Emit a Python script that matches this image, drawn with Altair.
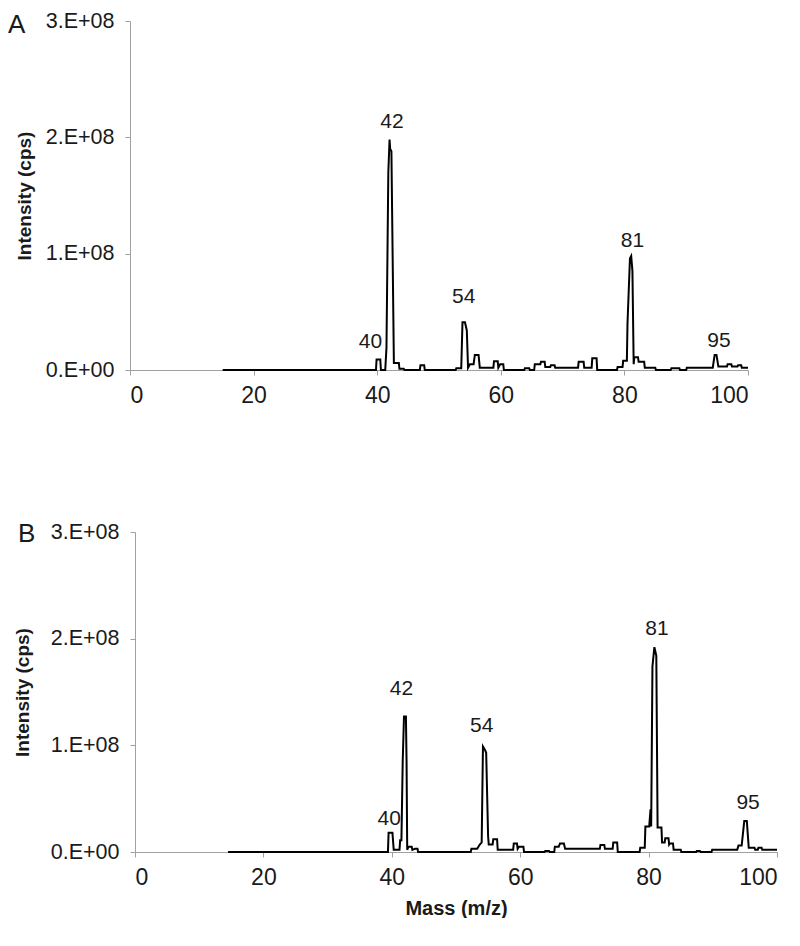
import altair as alt
import pandas as pd

# ---------------- Panel A spectrum ----------------
mass_a = [15, 39.8, 39.9, 40.5, 40.6, 41.3, 41.5, 41.8, 42.0, 42.1, 42.3, 42.7, 43.5, 43.6, 44.3, 44.4,
          46.9, 47.0, 47.6, 47.7,
          52.7, 52.8, 53.6, 53.8, 54.2, 54.5, 54.7, 55.0, 55.6, 55.8, 56.4, 56.6, 58.8, 58.9, 59.5, 59.6,
          59.9, 60.4, 60.5,
          63.8, 63.9, 64.6, 64.7, 65.4, 65.5, 66.4, 66.5, 67.1, 67.2, 68.0, 68.1, 68.7, 68.8, 72.5, 72.6,
          73.4, 73.5, 74.7, 74.8, 75.5, 75.6,
          78.8, 78.9, 79.7, 79.8, 80.4, 80.5, 80.9, 81.1, 81.3, 81.5, 81.6, 82.2, 82.3, 83.2, 83.3, 85.0, 85.1,
          87.5, 87.6, 88.9, 89.0, 90.0, 90.1, 94.3, 94.6, 94.9, 95.2, 96.6, 96.7, 97.3, 97.4, 98.3, 98.4,
          98.9, 99.0, 100]
int_a = [0, 0, 9e6, 9e6, 0, 0, 1.9e7, 1.7e8, 1.98e8, 1.9e8, 1.88e8, 6e6, 6e6, 1e6, 1e6, 0,
         0, 4e6, 4e6, 0,
         0, 1.5e6, 1.5e6, 4.1e7, 4.1e7, 3.4e7, 2e6, 5e6, 5e6, 1.3e7, 1.3e7, 2e6, 2e6, 7.5e6, 7.5e6, 2e6,
         5e6, 5e6, 0,
         0, 1.5e6, 1.5e6, 0, 0, 5e6, 5e6, 7e6, 7e6, 2.5e6, 2.5e6, 4e6, 4e6, 2e6, 2e6, 7e6,
         7e6, 2e6, 2e6, 1e7, 1e7, 0,
         0, 2.5e6, 2.5e6, 8e6, 8e6, 4e7, 9.6e7, 9.8e7, 8.5e7, 5e6, 1.1e7, 1.1e7, 7e6, 7e6, 2e6, 2e6, 0,
         0, 1.5e6, 1.5e6, 0, 0, 2e6, 2e6, 1.3e7, 1.3e7, 3e6, 3e6, 5e6, 5e6, 3e6, 3e6, 4e6,
         4e6, 2e6, 2e6]

# ---------------- Panel B spectrum ----------------
mass_b = [14.5, 39.4, 39.5, 40.1, 40.3, 41.2, 41.3, 41.5, 41.7, 41.9, 42.2, 42.3, 42.4, 42.6, 43.1, 43.2,
          43.6, 44.0, 44.1,
          52.3, 52.4, 53.3, 53.7, 54.0, 54.2, 54.5, 54.7, 55.0, 55.1, 55.7, 55.8, 56.4, 56.5, 58.9, 59.0,
          59.5, 59.6, 59.8, 60.5, 60.6,
          63.8, 63.9, 64.5, 64.6, 65.3, 65.4, 66.0, 66.2, 66.8, 67.0, 72.4, 72.5, 73.1, 73.2, 74.4, 74.5,
          75.1, 75.2,
          78.6, 78.7, 79.4, 79.5, 80.1, 80.3, 80.4, 80.6, 80.9, 81.2, 81.4, 82.0, 82.1, 82.5, 82.6, 83.1,
          83.2, 83.3, 83.8, 83.9, 85.0, 85.1,
          87.4, 87.5, 88.0, 88.1, 89.8, 89.9, 93.8, 94.0, 94.5, 94.9, 95.3, 95.6, 96.5, 96.6, 97.0, 97.1,
          97.6, 97.7, 100]
int_b = [0, 0, 1.8e7, 1.8e7, 2e6, 2e6, 1.1e7, 1.1e7, 8.5e7, 1.27e8, 1.27e8, 8.4e7, 2e6, 5e6, 5e6, 2e6,
         3e6, 3e6, 0,
         0, 3e6, 3e6, 7e6, 9e6, 9.9e7, 9.6e7, 9.3e7, 1.5e7, 7e6, 7e6, 1.2e7, 1.2e7, 2e6, 2e6, 8e6,
         8e6, 3e6, 5e6, 5e6, 0,
         0, 1e6, 1e6, 0, 0, 5e6, 5e6, 8e6, 8e6, 3e6, 3e6, 6.5e6, 6.5e6, 3e6, 3e6, 9e6,
         9e6, 0,
         0, 4e6, 4e6, 2.4e7, 2.4e7, 4e7, 2.4e7, 1.74e8, 1.92e8, 1.84e8, 2.3e7, 2.3e7, 9e6, 9e6, 1.3e7, 1.3e7,
         7e6, 8e6, 8e6, 2e6, 2e6, 0,
         0, 1e6, 1e6, 0, 0, 2e6, 2e6, 6e6, 6e6, 2.9e7, 2.9e7, 4e6, 4e6, 2e6, 2e6, 4e6,
         4e6, 2e6, 2e6]

# ---------------- Peak labels ----------------
labels_a = ["40", "42", "54", "81", "95"]
label_mass_a = [38.9, 42.4, 54.0, 81.3, 95.3]
label_int_a = [2.4e7, 2.13e8, 6.3e7, 1.11e8, 2.5e7]

labels_b = ["40", "42", "54", "81", "95"]
label_mass_b = [39.6, 41.5, 54.0, 81.3, 95.5]
label_int_b = [3.1e7, 1.53e8, 1.18e8, 2.09e8, 4.6e7]

x_ticks = [0, 20, 40, 60, 80, 100]
y_ticks = [0, 1e8, 2e8, 3e8]

FONT = "Liberation Sans"


def panel(masses, vals, lab_t, lab_m, lab_y, letter, w, h, xtitle, letter_x, letter_y, ytp, shift):
    df = pd.DataFrame({"mass": masses, "intensity": vals})
    ldf = pd.DataFrame({"mass": lab_m, "intensity": lab_y, "label": lab_t})
    xaxis = alt.Axis(values=x_ticks, title=xtitle, labelFontSize=23, labelPadding=9,
                     titleFontSize=20, titleFontWeight="bold", titlePadding=9)
    yaxis = alt.Axis(values=y_ticks, title="Intensity (cps)", offset=-shift,
                     labelExpr="datum.value == 0 ? '0.E+00' : (datum.value / 1e8) + '.E+08'",
                     labelFontSize=21.5, labelPadding=11, titleFontSize=19,
                     titleFontWeight="bold", titlePadding=ytp)
    xenc = alt.X("mass:Q", scale=alt.Scale(domain=[0, 100], nice=False, range=[shift, w]), axis=xaxis)
    yenc = alt.Y("intensity:Q", scale=alt.Scale(domain=[0, 3e8], nice=False), axis=yaxis)
    line = alt.Chart(df).mark_line(color="black", strokeWidth=2, strokeJoin="miter").encode(
        x=xenc, y=yenc)
    text = alt.Chart(ldf).mark_text(font=FONT, fontSize=21, color="#1a1a1a").encode(
        x="mass:Q", y="intensity:Q", text="label:N")
    one = pd.DataFrame({"t": [letter]})
    let = alt.Chart(one).mark_text(
        font=FONT, fontSize=26, align="left", baseline="middle", color="#1a1a1a").encode(
        x=alt.value(letter_x), y=alt.value(letter_y), text="t:N")
    return alt.layer(line, text, let).properties(width=w, height=h)


pa = panel(mass_a, int_a, labels_a, label_mass_a, label_int_a, "A", 618, 349, None, -122, 4, 10.5, 0)
pb = panel(mass_b, int_b, labels_b, label_mass_b, label_int_b, "B", 647, 320, "Mass (m/z)", -112, 1.5, 17.5, 5)

chart = alt.vconcat(pa, pb, spacing=113).configure_axis(
    grid=False, domainColor="#a0a0a0", tickColor="#a0a0a0", tickSize=5,
    labelColor="#1a1a1a", titleColor="#1a1a1a", labelFont=FONT, titleFont=FONT,
).configure_view(stroke=None).properties(background="white", padding={"left": 0, "top": 2, "right": 0, "bottom": 0})

chart.save("out.html", embed_options={"renderer": "svg", "actions": False})
